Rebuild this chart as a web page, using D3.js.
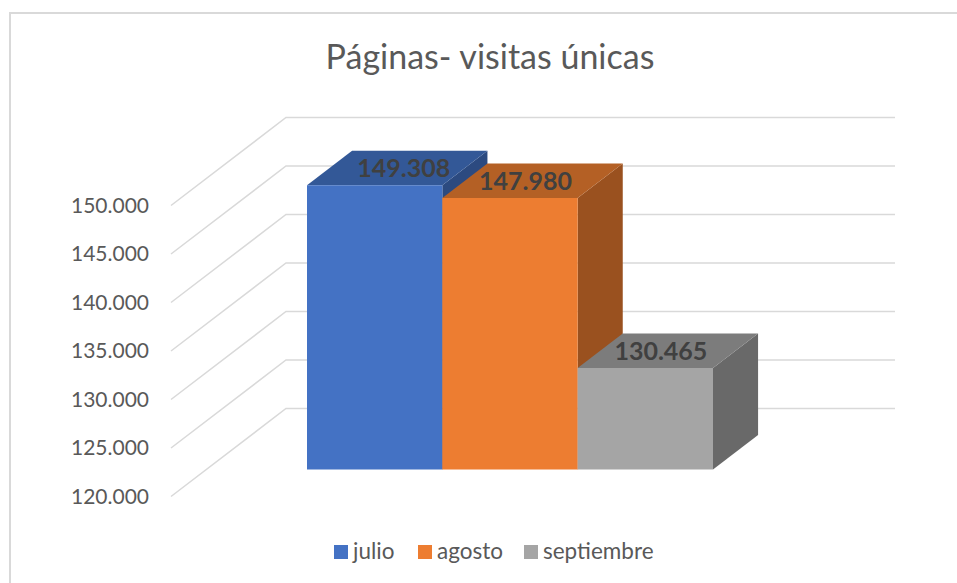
<!DOCTYPE html>
<html>
<head>
<meta charset="utf-8">
<script src="https://cdn.jsdelivr.net/npm/d3@7"></script>
<style>
    html, body { margin: 0; padding: 0; background: #fff; }
    svg { display: block; }
    text { font-family: Lato, "Open Sans", sans-serif; }
</style>
</head>
<body>
<svg id="chart" width="957" height="583"></svg>
<script>
const title = "Páginas- visitas únicas";
const months = ["julio", "agosto", "septiembre"];
const visits = [149308, 147980, 130465];
const tickValues = [120000, 125000, 130000, 135000, 140000, 145000, 150000];

const frontColors = ["#4472c4", "#ed7d31", "#a5a5a5"];
const topColors = ["#335897", "#b46025", "#7c7c7c"];
const sideColors = ["#2c4a80", "#9a511f", "#696969"];

const svg = d3.select("#chart");

//es-ES style thousands: 150.000
const fmt = d3.formatLocale({ decimal: ",", thousands: ".", grouping: [3], currency: ["", " €"] }).format(",d");

const yScale = d3.scaleLinear().domain([120000, 150000]).range([496.5, 205.5]);
const xBand = d3.scaleBand().domain(months).range([307, 713]);

//depth 0 = front of the floor, 1 = back wall
const depthX = d3.scaleLinear().domain([0, 1]).range([0, 115]);
const depthY = d3.scaleLinear().domain([0, 1]).range([0, -88]);
const barFront = 0.307;
const barBack = 0.699;

const line = d3.line();

function project(x, value, depth) {
    return [x + depthX(depth), yScale(value) + depthY(depth)];
}

//outer frame, right and bottom edges are cut off in the picture
svg.append("path")
    .attr("d", line([[10, 583], [10, 13], [957, 13]]))
    .attr("fill", "none").attr("stroke", "#d9d9d9").attr("stroke-width", 2);

//title
svg.append("text").attr("x", 490).attr("y", 69)
    .attr("text-anchor", "middle").attr("font-size", 34).attr("fill", "#595959")
    .text(title);

//gridlines: side wall then back wall
const wallLeft = 171;
const wallRight = 895 - depthX(1);
svg.append("g").selectAll("path").data(tickValues).join("path")
    .attr("d", d => line([project(wallLeft, d, 0), project(wallLeft, d, 1), project(wallRight, d, 1)]))
    .attr("fill", "none").attr("stroke", "#d9d9d9").attr("stroke-width", 1.5);

//value axis
const yAxis = d3.axisLeft(yScale).tickValues(tickValues).tickFormat(fmt).tickSize(0).tickPadding(0);
const yAxisDraw = svg.append("g").attr("transform", "translate(149,0)").call(yAxis);
yAxisDraw.select(".domain").remove();
yAxisDraw.selectAll("text")
    .attr("font-size", 21).attr("fill", "#595959")
    .style("font-family", "Lato, 'Open Sans', sans-serif");

//bars
const bars = svg.append("g").selectAll("g").data(months).join("g");
const base = 120000;

function poly(points) {
    return line(points) + "Z";
}

bars.each(function (m, i) {
    const g = d3.select(this);
    //band edges are the front face, take the floor shift back out
    const x0 = xBand(m) - depthX(barFront);
    const x1 = x0 + xBand.bandwidth();
    const v = visits[i];
    g.append("path").attr("fill", sideColors[i])
        .attr("d", poly([project(x1, v, barFront), project(x1, v, barBack),
            project(x1, base, barBack), project(x1, base, barFront)]));
    g.append("path").attr("fill", topColors[i])
        .attr("d", poly([project(x0, v, barFront), project(x0, v, barBack),
            project(x1, v, barBack), project(x1, v, barFront)]));
    g.append("path").attr("fill", frontColors[i])
        .attr("d", poly([project(x0, v, barFront), project(x1, v, barFront),
            project(x1, base, barFront), project(x0, base, barFront)]));
});

//data labels, nudged by hand like the original
const labelNudge = [6.5, -7, -7];
svg.append("g").selectAll("text").data(months).join("text")
    .attr("x", (m, i) => xBand(m) + xBand.bandwidth() / 2 + depthX((barBack - barFront) / 2) + labelNudge[i])
    .attr("y", (m, i) => project(0, visits[i], (barFront + barBack) / 2)[1] + 9)
    .attr("text-anchor", "middle").attr("font-size", 25).attr("font-weight", 700).attr("fill", "#404040")
    .text((m, i) => fmt(visits[i]));

//legend
const legendX = d3.scaleOrdinal().domain(months).range([334, 418, 524]);
const legend = svg.append("g").selectAll("g").data(months).join("g")
    .attr("transform", m => `translate(${legendX(m)},545)`);
legend.append("rect").attr("width", 14).attr("height", 14)
    .attr("fill", (m, i) => frontColors[i]);
legend.append("text").attr("x", 19).attr("y", 14)
    .attr("font-size", 22.5).attr("fill", "#595959")
    .text(m => m);
</script>
</body>
</html>
